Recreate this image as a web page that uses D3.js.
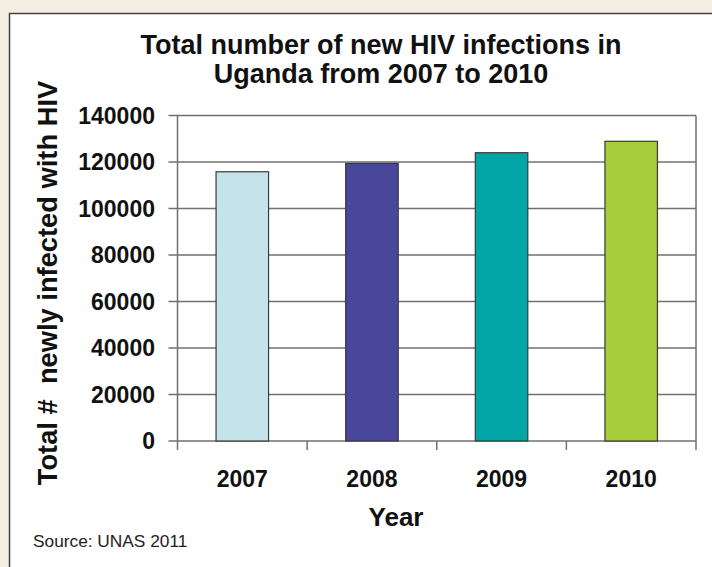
<!DOCTYPE html>
<html>
<head>
<meta charset="utf-8">
<script src="https://cdn.jsdelivr.net/npm/d3@7"></script>
<style>
  html, body { margin: 0; padding: 0; background: #f4ede1; }
  svg { display: block; }
  text { font-family: "Liberation Sans", Arial, sans-serif; }
</style>
</head>
<body>
<svg id="chart" width="712" height="567"></svg>
<script>
// New HIV infections in Uganda per year
const years = ["2007", "2008", "2009", "2010"];
const infections = [115800, 119400, 124000, 128900];
const barColors = ["#c6e3e9", "#48479c", "#00a5a5", "#a7cd3a"];
const yTicks = [0, 20000, 40000, 60000, 80000, 100000, 120000, 140000];
const titleLines = ["Total number of new HIV infections in", "Uganda from 2007 to 2010"];

const svg = d3.select("#chart");
const W = 712, H = 567;

// white panel with dark frame on the beige page
svg.append("rect")
  .attr("x", 9.5).attr("y", 13.5)
  .attr("width", W).attr("height", H)
  .attr("fill", "#ffffff")
  .attr("stroke", "#444").attr("stroke-width", 1.5);

const plot = { left: 177.5, right: 696, top: 115.5, bottom: 441 };

const x = d3.scaleBand()
  .domain(years)
  .range([plot.left, plot.right])
  .padding(0);

const y = d3.scaleLinear()
  .domain([0, 140000])
  .range([plot.bottom, plot.top]);

const gridColor = "#707070";

// horizontal gridlines with short ticks left of the axis
svg.append("g").selectAll("line")
  .data(yTicks)
  .join("line")
  .attr("x1", plot.left - 9)
  .attr("x2", plot.right)
  .attr("y1", d => y(d))
  .attr("y2", d => y(d))
  .attr("stroke", gridColor)
  .attr("stroke-width", 1.5);

// right border of the plot area
svg.append("line")
  .attr("x1", plot.right).attr("x2", plot.right)
  .attr("y1", plot.top).attr("y2", plot.bottom + 9)
  .attr("stroke", gridColor).attr("stroke-width", 1.5);

// y axis line
svg.append("line")
  .attr("x1", plot.left).attr("x2", plot.left)
  .attr("y1", plot.top).attr("y2", plot.bottom + 9)
  .attr("stroke", gridColor).attr("stroke-width", 1.5);

// category separator ticks below the zero line
svg.append("g").selectAll("line")
  .data(years.slice(1))
  .join("line")
  .attr("x1", d => x(d)).attr("x2", d => x(d))
  .attr("y1", plot.bottom).attr("y2", plot.bottom + 9)
  .attr("stroke", gridColor).attr("stroke-width", 1.5);

// bars
const barW = x.bandwidth() * 0.405;
svg.append("g").selectAll("rect")
  .data(years)
  .join("rect")
  .attr("x", d => x(d) + (x.bandwidth() - barW) / 2)
  .attr("y", (d, i) => y(infections[i]))
  .attr("width", barW)
  .attr("height", (d, i) => y(0) - y(infections[i]))
  .attr("fill", (d, i) => barColors[i])
  .attr("stroke", "#3a3a3a")
  .attr("stroke-width", 1.2);

// y tick labels
svg.append("g").selectAll("text")
  .data(yTicks)
  .join("text")
  .attr("x", 155)
  .attr("y", d => y(d) + 8)
  .attr("text-anchor", "end")
  .attr("font-size", 23)
  .attr("font-weight", "bold")
  .attr("fill", "#111")
  .text(d => d);

// x tick labels
svg.append("g").selectAll("text")
  .data(years)
  .join("text")
  .attr("x", d => x(d) + x.bandwidth() / 2)
  .attr("y", 487)
  .attr("text-anchor", "middle")
  .attr("font-size", 23)
  .attr("font-weight", "bold")
  .attr("fill", "#111")
  .text(d => d);

// title
svg.append("g").selectAll("text")
  .data(titleLines)
  .join("text")
  .attr("x", 381)
  .attr("y", (d, i) => 54 + i * 29)
  .attr("text-anchor", "middle")
  .attr("font-size", 27)
  .attr("font-weight", "bold")
  .attr("fill", "#111")
  .text(d => d);

// axis titles
svg.append("text")
  .attr("x", 396).attr("y", 526)
  .attr("text-anchor", "middle")
  .attr("font-size", 26)
  .attr("font-weight", "bold")
  .attr("fill", "#111")
  .text("Year");

svg.append("text")
  .attr("transform", "translate(57,283) rotate(-90)")
  .attr("text-anchor", "middle")
  .attr("font-size", 27.3)
  .attr("font-weight", "bold")
  .attr("fill", "#111")
  .attr("xml:space", "preserve")
  .style("white-space", "pre")
  .text("Total #  newly infected with HIV");

// source note
svg.append("text")
  .attr("x", 33).attr("y", 547)
  .attr("font-size", 17.3)
  .attr("fill", "#222")
  .text("Source: UNAS 2011");
</script>
</body>
</html>
